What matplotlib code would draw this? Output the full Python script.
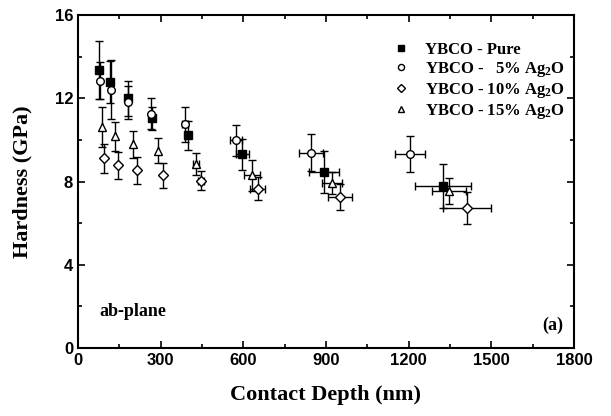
#!/usr/bin/env python3
import numpy as np
import matplotlib
matplotlib.use('Agg')
import matplotlib.pyplot as plt
from matplotlib.ticker import MultipleLocator

# contact depth (nm), hardness (GPa) and error bars
pure_x = [77, 117, 180, 268, 399, 596, 893, 1325]
pure_y = [13.35, 12.79, 11.99, 11.03, 10.22, 9.31, 8.45, 7.79]
pure_ye = [1.4, 1.0, 0.85, 0.54, 0.7, 0.75, 1.0, 1.07]
pure_xe = [0, 0, 0, 0, 12, 24, 55, 103]

ag5_x = [81, 121, 181, 265, 388, 574, 845, 1205]
ag5_y = [12.85, 12.42, 11.81, 11.26, 10.74, 9.97, 9.39, 9.34]
ag5_ye = [0.87, 1.4, 0.8, 0.74, 0.83, 0.74, 0.9, 0.87]
ag5_xe = [0, 0, 0, 0, 10, 21, 44, 54]

ag10_x = [95, 146, 214, 309, 447, 653, 952, 1412]
ag10_y = [9.12, 8.77, 8.53, 8.30, 8.03, 7.66, 7.25, 6.72]
ag10_ye = [0.7, 0.65, 0.66, 0.6, 0.46, 0.54, 0.62, 0.77]
ag10_xe = [0, 0, 0, 0, 12, 27, 44, 86]

ag15_x = [88, 135, 201, 289, 429, 631, 922, 1347]
ag15_y = [10.61, 10.18, 9.79, 9.47, 8.85, 8.30, 7.95, 7.53]
ag15_ye = [0.97, 0.7, 0.65, 0.6, 0.52, 0.74, 0.53, 0.63]
ag15_xe = [0, 0, 0, 0, 10, 30, 35, 62]

labels = ['YBCO - Pure', r'YBCO -   5% Ag$_\mathregular{2}$O',
          r'YBCO - 10% Ag$_\mathregular{2}$O', r'YBCO - 15% Ag$_\mathregular{2}$O']

plt.rcParams['font.family'] = 'Liberation Serif'
plt.rcParams['font.weight'] = 'bold'
plt.rcParams['mathtext.default'] = 'regular'

fig = plt.figure(figsize=(6.11, 4.16), dpi=100)
ax = fig.add_axes([78/611, 1-348/416, (574-78)/611, (348-15)/416])

series = [
    (pure_x, pure_y, pure_xe, pure_ye, 's', 'black'),
    (ag5_x, ag5_y, ag5_xe, ag5_ye, 'o', 'white'),
    (ag10_x, ag10_y, ag10_xe, ag10_ye, 'D', 'white'),
    (ag15_x, ag15_y, ag15_xe, ag15_ye, '^', 'white'),
]
handles = []
for (x, y, xe, ye, m, fc), lab in zip(series, labels):
    ms = 5.5 if m != 'D' else 4.8
    ax.errorbar(x, y, yerr=ye, xerr=xe, fmt='none', ecolor='black',
                elinewidth=1.0, capsize=3, capthick=1.0, zorder=2)
    h, = ax.plot(x, y, ls='none', marker=m, ms=ms, mfc=fc, mec='black',
                 mew=1.0, zorder=3, label=lab)
    handles.append(h)

ax.set_xlim(0, 1800)
ax.set_ylim(0, 16)
ax.xaxis.set_major_locator(MultipleLocator(300))
ax.xaxis.set_minor_locator(MultipleLocator(150))
ax.yaxis.set_major_locator(MultipleLocator(4))
ax.yaxis.set_minor_locator(MultipleLocator(2))
ax.tick_params(which='both', direction='in', top=True, right=True, width=1.2)
ax.tick_params(which='major', length=5)
ax.tick_params(which='minor', length=3)
for sp in ax.spines.values():
    sp.set_linewidth(1.5)
for t in ax.get_xticklabels() + ax.get_yticklabels():
    t.set_fontfamily('Liberation Sans')
    t.set_fontweight('bold')
    t.set_fontsize(12)

ax.set_xlabel('Contact Depth (nm)', fontsize=16, fontweight='bold', labelpad=12)
ax.set_ylabel('Hardness (GPa)', fontsize=16, fontweight='bold', labelpad=16)

leg = ax.legend(handles=handles, loc='upper left', bbox_to_anchor=(0.605, 0.965),
                frameon=False, fontsize=12, markerscale=0.8, handlelength=1.0,
                handletextpad=0.9, labelspacing=0.12)
ax.text(0.043, 0.095, 'ab-plane', transform=ax.transAxes, fontsize=13,
        fontweight='bold')
ax.text(0.935, 0.055, '(a)', transform=ax.transAxes, fontsize=13,
        fontweight='bold')

fig.savefig('out.png', dpi=100)
